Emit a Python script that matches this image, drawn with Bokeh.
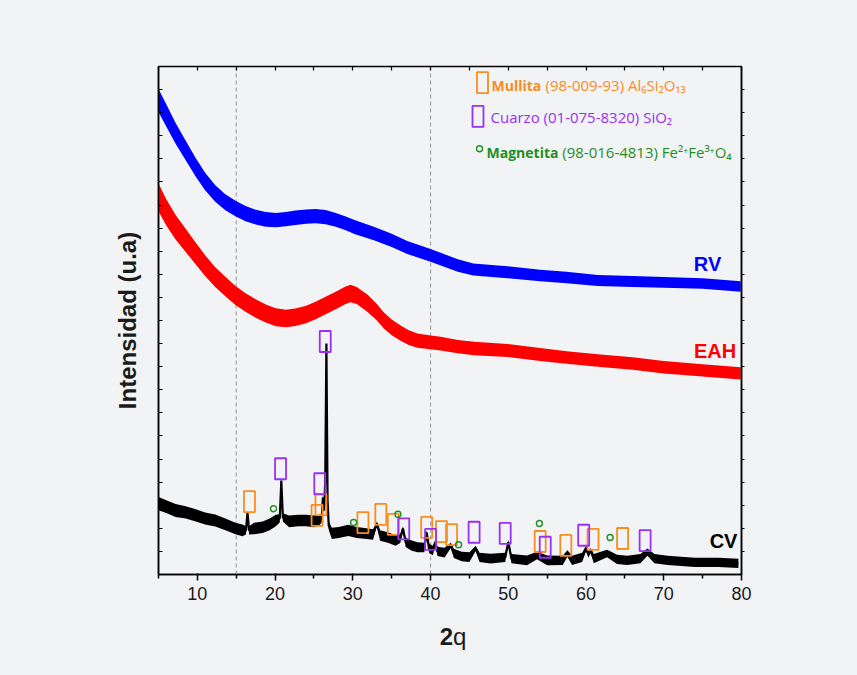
import numpy as np
from bokeh.plotting import figure
from bokeh.layouts import column
from bokeh.models import Range1d, FixedTicker, LinearAxis, Span, Label, CustomJSTickFormatter
from bokeh.core.properties import value
from bokeh.embed import file_html
from bokeh.resources import INLINE

# ---------------- data ----------------
# RV (blue)
rv_x = [5, 6, 7.2, 8.5, 9.8, 11, 12.3, 13.6, 14.9, 16.2, 17.5, 18.8, 20.1, 21.4, 22.6, 24, 25.2, 26.5,
        27.8, 29, 30.3, 32.7, 35, 37, 40, 43.5, 45.5, 49.9, 54.1, 57.5, 61.5, 66, 70, 75, 79.9]
rv_y = [20.53, 19.88, 19.10, 18.36, 17.63, 17.02, 16.50, 16.12, 15.85, 15.63, 15.48, 15.38, 15.35, 15.39,
        15.45, 15.50, 15.52, 15.48, 15.36, 15.22, 15.04, 14.77, 14.47, 14.16, 13.82, 13.38, 13.21, 13.09,
        12.95, 12.86, 12.73, 12.69, 12.65, 12.60, 12.47]
rv_hw = [0.50, 0.48, 0.45, 0.42, 0.40, 0.38, 0.36, 0.35, 0.34, 0.33, 0.32, 0.32, 0.31, 0.31, 0.31, 0.31,
         0.31, 0.31, 0.30, 0.30, 0.30, 0.29, 0.29, 0.28, 0.28, 0.27, 0.26, 0.26, 0.25, 0.25, 0.24, 0.24,
         0.23, 0.23, 0.23]

# EAH (red)
eah_x = [5, 6, 7.2, 8.5, 9.8, 11, 12.3, 13.6, 14.9, 16.2, 17.5, 18.8, 20.1, 21.4, 22.6, 24, 25.2, 26.5,
         27.8, 29, 29.7, 30.5, 31.9, 33, 34, 35, 36.2, 37.2, 38.3, 40, 41.3, 43.5, 45.6, 49.9, 54.1, 57.5,
         61.5, 66, 70, 75, 79.9]
eah_y = [16.33, 15.68, 15.04, 14.47, 13.90, 13.38, 12.88, 12.47, 12.08, 11.78, 11.52, 11.30, 11.14, 11.09,
         11.14, 11.26, 11.43, 11.65, 11.87, 12.08, 12.17, 12.08, 11.74, 11.39, 11.00, 10.70, 10.44, 10.26,
         10.13, 10.05, 10.00, 9.87, 9.79, 9.70, 9.53, 9.40, 9.27, 9.14, 8.98, 8.84, 8.71]
eah_hw = [0.60, 0.57, 0.53, 0.50, 0.47, 0.45, 0.43, 0.42, 0.41, 0.40, 0.40, 0.39, 0.39, 0.38, 0.38, 0.38,
          0.38, 0.38, 0.38, 0.38, 0.38, 0.37, 0.37, 0.36, 0.35, 0.34, 0.33, 0.32, 0.31, 0.30, 0.30, 0.29,
          0.29, 0.28, 0.28, 0.27, 0.27, 0.27, 0.27, 0.27, 0.27]

# CV (black)
cv_x = [5, 6, 7.2, 8.5, 9.8, 11, 12.3, 13.6, 14.9, 15.8, 16.25, 16.45, 16.65, 17.3, 18.4, 19.3, 20.1, 20.6,
        20.8, 21.0, 21.8, 23, 24, 25, 25.6, 26.0, 26.15, 26.3, 26.45, 26.6, 26.75, 26.9, 27.3, 28.2, 29.4,
        30.5, 31.5, 32.6, 33.1, 33.5, 34.5, 35.5, 36.1, 36.45, 36.8, 37.5, 38.3, 39.2, 39.5, 39.8, 40.3,
        40.6, 40.9, 41.8, 42.6, 43.0, 44.0, 45.0, 45.8, 46.3, 47.7, 49.6, 50.0, 50.4, 52.4, 53.7, 55.0,
        57.0, 57.6, 58.2, 59.5, 60.0, 60.3, 60.6, 61.0, 62.7, 64.0, 65.3, 67.0, 67.9, 68.8, 70.5, 74.0,
        77.0, 79.6]
cv_y = [3.07, 2.94, 2.77, 2.69, 2.56, 2.43, 2.34, 2.17, 1.99, 1.91, 1.91, 2.69, 1.91, 1.99, 2.05, 2.17,
        2.34, 2.43, 4.07, 2.47, 2.30, 2.34, 2.34, 2.30, 2.34, 2.43, 3.33, 2.77, 4.07, 10.00, 3.20, 2.12,
        1.78, 1.82, 1.91, 1.82, 1.78, 1.73, 2.21, 1.69, 1.60, 1.47, 1.56, 1.99, 1.39, 1.26, 1.18, 1.17,
        1.82, 1.13, 1.04, 1.39, 1.00, 0.95, 1.26, 0.91, 0.78, 0.75, 1.13, 0.74, 0.69, 0.74, 1.40, 0.69,
        0.61, 0.82, 0.61, 0.61, 0.91, 0.61, 0.74, 1.13, 0.87, 1.04, 0.69, 0.91, 0.65, 0.61, 0.69, 0.97,
        0.69, 0.61, 0.53, 0.52, 0.48]
cv_hw = [0.29, 0.28, 0.28, 0.27, 0.27, 0.26, 0.26, 0.25, 0.25, 0.25, 0.18, 0.07, 0.18, 0.25, 0.25, 0.25,
         0.25, 0.18, 0.07, 0.18, 0.25, 0.25, 0.25, 0.25, 0.24, 0.18, 0.09, 0.13, 0.09, 0.05, 0.09, 0.18,
         0.24, 0.24, 0.24, 0.24, 0.23, 0.23, 0.09, 0.23, 0.23, 0.23, 0.20, 0.09, 0.20, 0.22, 0.22, 0.21,
         0.09, 0.20, 0.21, 0.11, 0.20, 0.21, 0.11, 0.20, 0.21, 0.21, 0.11, 0.20, 0.21, 0.20, 0.09, 0.20,
         0.21, 0.16, 0.21, 0.20, 0.14, 0.20, 0.20, 0.11, 0.14, 0.11, 0.20, 0.16, 0.20, 0.20, 0.20, 0.16,
         0.20, 0.20, 0.20, 0.20, 0.20]

# phase markers
mullita_x = [16.7, 25.9, 25.4, 31.3, 33.6, 35.2, 39.5, 41.4, 42.7, 54.1, 57.4, 60.9, 64.7]
mullita_y = [3.16, 3.03, 2.56, 2.25, 2.60, 2.17, 2.04, 1.86, 1.73, 1.43, 1.26, 1.52, 1.56]
cuarzo_x = [20.7, 25.75, 26.45, 36.55, 40.0, 45.6, 49.6, 54.75, 59.7, 67.6]
cuarzo_y = [4.58, 3.93, 10.09, 1.98, 1.52, 1.83, 1.78, 1.18, 1.70, 1.47]
magnetita_x = [19.8, 30.1, 35.8, 43.6, 54.0, 63.1]
magnetita_y = [2.85, 2.25, 2.61, 1.29, 2.21, 1.60]

x_ticks = [10, 20, 30, 40, 50, 60, 70, 80]
x_minor = [5, 15, 25, 35, 45, 55, 65, 75]
y_ticks = list(range(1, 22))
ref_lines = [15, 40]

ORANGE = "#fb8c1e"
PURPLE = "#9a2ff5"
GREEN = "#1f8f1f"
BG = "#f2f3f5"
AF = "Liberation Sans"

for a, b in [(rv_x, rv_y), (rv_x, rv_hw), (eah_x, eah_y), (eah_x, eah_hw), (cv_x, cv_y), (cv_x, cv_hw)]:
    assert len(a) == len(b)

W = 857
p = figure(width=W, height=622, output_backend="svg", toolbar_location=None,
           x_range=Range1d(5, 80), y_range=Range1d(0, 22),
           min_border_left=158, min_border_right=116, min_border_top=66, min_border_bottom=48)
p.background_fill_color = BG
p.border_fill_color = BG
p.outline_line_color = "black"
p.outline_line_width = 1.5
p.xgrid.visible = False
p.ygrid.visible = False

blank = CustomJSTickFormatter(code="return ''")

# bottom axis
xa = p.xaxis[0]
xa.ticker = FixedTicker(ticks=x_ticks, minor_ticks=x_minor)
xa.major_tick_out = 6
xa.major_tick_in = 1
xa.minor_tick_out = 4
xa.minor_tick_in = 0
xa.axis_line_width = 1.5
xa.major_tick_line_width = 1.5
xa.minor_tick_line_width = 1.5
xa.major_label_text_font = AF
xa.major_label_text_font_size = "18px"
xa.major_label_text_color = "#1a1a1a"
xa.major_label_standoff = 6

# left axis
ya = p.yaxis[0]
ya.ticker = FixedTicker(ticks=y_ticks)
ya.formatter = blank
ya.major_tick_in = 4
ya.major_tick_out = 0
ya.minor_tick_in = 0
ya.minor_tick_out = 0
ya.axis_line_width = 1.5
ya.major_tick_line_width = 1.2
ya.major_label_standoff = 0
ya.axis_label = "Intensidad (u.a)"
ya.axis_label_text_font = AF
ya.axis_label_text_font_size = "24px"
ya.axis_label_text_font_style = "bold"
ya.axis_label_text_color = "#1a1a1a"
ya.axis_label_standoff = 18

# top and right axes
top = LinearAxis(ticker=FixedTicker(ticks=x_ticks + x_minor), formatter=blank,
                 major_tick_in=4, major_tick_out=0, minor_tick_in=0, minor_tick_out=0,
                 axis_line_color=None, major_tick_line_width=1.2)
right = LinearAxis(ticker=FixedTicker(ticks=y_ticks), formatter=blank,
                   major_tick_in=0, major_tick_out=3, minor_tick_in=0, minor_tick_out=0,
                   axis_line_width=1.5, major_tick_line_width=1.2)
p.add_layout(top, "above")
p.add_layout(right, "right")

for loc in ref_lines:
    p.add_layout(Span(location=loc, dimension="height", line_color="#a3a3a3",
                      line_dash="4 3", line_width=1.2, level="underlay"))

def band(xs, ys, hw, color, lw):
    ys = np.array(ys)
    hw = np.array(hw)
    p.varea(x=xs, y1=ys - hw, y2=ys + hw, fill_color=color)
    p.line(xs, ys, line_color=color, line_width=lw)

band(rv_x, rv_y, rv_hw, "#0000ff", 2)
band(eah_x, eah_y, eah_hw, "#ff0000", 2)
band(cv_x, cv_y, cv_hw, "#000000", 2.2)

# phase markers
p.rect(mullita_x, mullita_y, width=11, height=21, width_units="screen", height_units="screen",
       fill_alpha=0, line_color=ORANGE, line_width=1.8)
p.rect(cuarzo_x, cuarzo_y, width=11, height=21, width_units="screen", height_units="screen",
       fill_alpha=0, line_color=PURPLE, line_width=1.8)
p.scatter(magnetita_x, magnetita_y, marker="circle", size=6, fill_alpha=0,
          line_color=GREEN, line_width=1.4)

# legend (top)
p.rect([46.68], [21.30], width=11, height=21, width_units="screen", height_units="screen",
       fill_alpha=0, line_color=ORANGE, line_width=1.8)
p.rect([46.10], [19.84], width=11, height=21, width_units="screen", height_units="screen",
       fill_alpha=0, line_color=PURPLE, line_width=1.8)
p.scatter([46.30], [18.44], marker="circle", size=6, fill_alpha=0, line_color=GREEN, line_width=1.4)

LF = "Open Sans"
def lab(x, y, text, color, size="15px", style="normal", align="left", font=LF):
    p.add_layout(Label(x=x, y=y, text=text, text_color=color,
                       text_font=font, text_font_size=size, text_font_style=style,
                       text_align=align, text_baseline="middle"))

lab(47.84, 21.18, "Mullita", ORANGE, size="14px", style="bold")
lab(54.79, 21.18, "(98-009-93) Al\u2086Si\u2082O\u2081\u2083", ORANGE)
lab(47.71, 19.81, "Cuarzo (01-075-8320) SiO\u2082", PURPLE)
lab(47.20, 18.29, "Magnetita", GREEN, size="14px", style="bold")
lab(56.94, 18.29, "(98-016-4813) Fe\u00b2\u207aFe\u00b3\u207aO\u2084", GREEN)

# series names
lab(75.63, 13.43, "RV", "#0000ff", size="20px", style="bold", align="center", font=AF)
lab(76.60, 9.70, "EAH", "#ff0000", size="20px", style="bold", align="center", font=AF)
lab(77.69, 1.47, "CV", "#000000", size="20px", style="bold", align="center", font=AF)

# x-axis title strip (bold "2" + regular "q")
q = figure(width=W, height=53, output_backend="svg", toolbar_location=None,
           x_axis_type=None, y_axis_type=None,
           x_range=Range1d(0, W), y_range=Range1d(0, 53),
           min_border_left=0, min_border_right=0, min_border_top=0, min_border_bottom=0)
q.xgrid.visible = False
q.ygrid.visible = False
q.outline_line_color = None
q.background_fill_color = BG
q.border_fill_color = BG
q.text(x=[433], y=[39], text=["2"], text_font=value(AF), text_font_size="24px",
       text_font_style="bold", text_align="right", text_baseline="middle", text_color="#1a1a1a")
q.text(x=[433], y=[39], text=["q"], text_font=value(AF), text_font_size="24px",
       text_align="left", text_baseline="middle", text_color="#1a1a1a")

layout = column(p, q, spacing=0, styles={"background-color": BG})
open("out.html", "w").write(file_html(layout, INLINE))
